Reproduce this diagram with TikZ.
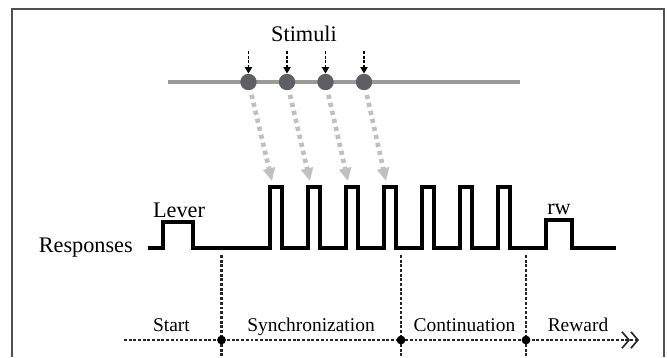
\documentclass[tikz,border=0pt]{standalone}
\usepackage{fontspec}
\setmainfont{Liberation Serif}
\usetikzlibrary{arrows.meta}
\definecolor{framegray}{HTML}{505050}
\definecolor{linegray}{HTML}{9A9A9A}
\definecolor{dotgray}{HTML}{5E5F64}
\definecolor{arrowgray}{HTML}{C0C0C0}
\newcommand{\biglabel}{\fontsize{19}{22}\selectfont}
\newcommand{\phaselabel}{\fontsize{16.6}{20}\selectfont}

\begin{document}
\begin{tikzpicture}[x=0.03cm,y=-0.03cm,
  stim/.style={circle,fill=dotgray,inner sep=0pt,minimum size=14pt},
  tick/.style={circle,fill=black,inner sep=0pt,minimum size=7.5pt},
  cue/.style={dash pattern=on 2.5pt off 1.5pt,line width=1.5pt,-{Triangle[length=5.5pt,width=6pt]}},
  echo/.style={arrowgray,line width=4pt,dash pattern=on 3.6pt off 3.4pt,shorten <=4pt,-{Triangle[length=11pt,width=10pt]}},
  guide/.style={dash pattern=on 2.5pt off 1.5pt,line width=2pt,black!85},
  timeline/.style={dash pattern=on 2.5pt off 1.5pt,line width=2pt,black!85,
    -{Straight Barb[length=6pt,width=14pt,line width=1.4pt]Straight Barb[length=6pt,width=14pt,line width=1.4pt]}}]
  \useasboundingbox (0,0) rectangle (667,357) ;
  \draw[framegray,line width=1.7pt] (12,357) -- (12,9) -- (664,9) -- (664,357) ;

  % stimuli on the upper line
  \node[anchor=base] (stimuli) at (304,41) {\biglabel Stimuli} ;
  \coordinate (g0) at (168,82) ;
  \coordinate (g1) at (520,82) ;
  \draw[linegray,line width=3.6pt] (g0) -- (g1) ;
  \node[stim] (s1) at (248.5,82) {} ;
  \node[stim] (s2) at (287,82) {} ;
  \node[stim] (s3) at (325.5,82) {} ;
  \node[stim] (s4) at (364,82) {} ;
  \coordinate (a1) at (248.5,51) ;
  \coordinate (a2) at (287,51) ;
  \coordinate (a3) at (325.5,51) ;
  \coordinate (a4) at (364,51) ;
  \draw[cue] (a1) -- (s1) ;
  \draw[cue] (a2) -- (s2) ;
  \draw[cue] (a3) -- (s3) ;
  \draw[cue] (a4) -- (s4) ;

  % response trace
  \coordinate (p1) at (272,181) ;
  \coordinate (p2) at (310,181) ;
  \coordinate (p3) at (348,181) ;
  \coordinate (p4) at (386,181) ;
  \draw[echo] (s1) -- (p1) ;
  \draw[echo] (s2) -- (p2) ;
  \draw[echo] (s3) -- (p3) ;
  \draw[echo] (s4) -- (p4) ;
  \draw[line width=3.8pt,miter limit=10] (148,248) -- (163,248) -- (163,222) -- (193,222) -- (193,248)
    -- (270,248) -- (270,187) -- (282,187) -- (282,248)
    -- (308,248) -- (308,187) -- (320,187) -- (320,248)
    -- (346,248) -- (346,187) -- (358,187) -- (358,248)
    -- (384,248) -- (384,187) -- (396,187) -- (396,248)
    -- (422,248) -- (422,187) -- (434,187) -- (434,248)
    -- (460,248) -- (460,187) -- (472,187) -- (472,248)
    -- (498,248) -- (498,187) -- (510,187) -- (510,248)
    -- (546,248) -- (546,220) -- (572,220) -- (572,248) -- (616,248) ;
  \node[anchor=base] (lever) at (179,217) {\biglabel Lever} ;
  \node[anchor=base] (rw) at (559,214) {\biglabel rw} ;
  \node[anchor=base east,inner sep=0pt] (responses) at (133,252) {\biglabel Responses} ;

  % phases
  \coordinate (ax0) at (124,340) ;
  \coordinate (ax1) at (639,340) ;
  \draw[timeline] (ax0) -- (ax1) ;
  \coordinate (v1) at (221.5,255) ;
  \coordinate (v2) at (401,255) ;
  \coordinate (v3) at (526,255) ;
  \coordinate (w1) at (221.5,357) ;
  \coordinate (w2) at (401,357) ;
  \coordinate (w3) at (526,357) ;
  \draw[guide] (v1) -- (w1) ;
  \draw[guide] (v2) -- (w2) ;
  \draw[guide] (v3) -- (w3) ;
  \node[tick] (b1) at (221.5,340) {} ;
  \node[tick] (b2) at (401,340) {} ;
  \node[tick] (b3) at (526,340) {} ;
  \node[anchor=base] (start) at (171.5,331) {\phaselabel Start} ;
  \node[anchor=base] (sync) at (311,331) {\phaselabel Synchronization} ;
  \node[anchor=base] (cont) at (464.5,331) {\phaselabel Continuation} ;
  \node[anchor=base] (reward) at (578,331) {\phaselabel Reward} ;
\end{tikzpicture}
\end{document}
